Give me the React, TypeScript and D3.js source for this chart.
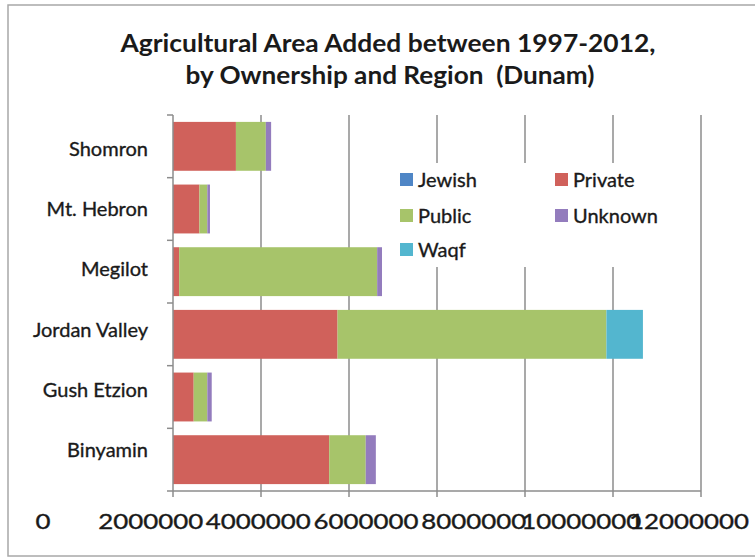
import React from "react";
import * as d3 from "d3";

const categories = ["Shomron", "Mt. Hebron", "Megilot", "Jordan Valley", "Gush Etzion", "Binyamin"];
const seriesNames = ["Jewish", "Private", "Public", "Unknown", "Waqf"];
const jewish = [0, 0, 0, 0, 0, 0];
const privateVals = [1430000, 600000, 140000, 3740000, 470000, 3550000];
const publicVals = [680000, 180000, 4500000, 6110000, 310000, 830000];
const unknownVals = [120000, 60000, 110000, 0, 100000, 230000];
const waqf = [0, 0, 0, 830000, 0, 0];
const xTicks = [0, 2000000, 4000000, 6000000, 8000000, 10000000, 12000000];
const colors = ["#4f86c6", "#d0615b", "#a7c46a", "#937cbd", "#53b6cf"];

const W = 755;
const H = 558;

export default function App() {
  const x = d3.scaleLinear().domain([0, 12000000]).range([173, 701]);
  const xLabel = d3.scaleLinear().domain([0, 12000000]).range([43, 689]);
  const y = d3.scaleBand<string>().domain(categories).range([115, 491]).paddingInner(0.22).paddingOuter(0.11);
  const yLabel = d3.scalePoint<string>().domain(categories).range([149, 450]);

  const rows = categories.map((c, i) => ({
    cat: c,
    Jewish: jewish[i],
    Private: privateVals[i],
    Public: publicVals[i],
    Unknown: unknownVals[i],
    Waqf: waqf[i],
  }));
  const stacked = d3.stack<any>().keys(seriesNames)(rows);
  const color = d3.scaleOrdinal<string, string>().domain(seriesNames).range(colors);

  const step = y.step();
  const boundaries = d3.range(categories.length + 1).map((i) => 115 + i * step);

  const legendPos = [
    { name: "Jewish", x: 400, y: 173 },
    { name: "Private", x: 555, y: 173 },
    { name: "Public", x: 400, y: 209 },
    { name: "Unknown", x: 555, y: 209 },
    { name: "Waqf", x: 400, y: 243 },
  ];

  const font = "Lato, 'Open Sans', sans-serif";
  const textColor = "#1a1a1a";
  const axisColor = "#8c8c8c";
  const heavy = { stroke: textColor, strokeWidth: 0.35 };

  return (
    <div style={{ position: "absolute", left: 0, top: 0 }}>
      <svg width={W} height={H} style={{ display: "block", background: "#fff" }}>
        <rect x={8} y={5} width={W} height={551} fill="#fff" stroke="#a8a8a8" strokeWidth={1.5} />
        <text x={388} y={52} textAnchor="middle" fontFamily={font} fontWeight="bold" fontSize={24} fill={textColor}
          textLength={535} lengthAdjust="spacingAndGlyphs">
          Agricultural Area Added between 1997-2012,
        </text>
        <text x={390} y={84} textAnchor="middle" fontFamily={font} fontWeight="bold" fontSize={24} fill={textColor}
          textLength={409} lengthAdjust="spacingAndGlyphs" style={{ whiteSpace: "pre" }}>
          {"by Ownership and Region  (Dunam)"}
        </text>

        {xTicks.slice(1).map((t) => (
          <line key={"g" + t} x1={x(t)} x2={x(t)} y1={115} y2={491} stroke={axisColor} strokeWidth={1.5} />
        ))}

        {stacked.map((s) => (
          <g key={s.key} fill={color(s.key)}>
            {s.map((d: any) => (
              d[1] - d[0] > 0 ? (
                <rect key={d.data.cat} x={x(d[0])} y={y(d.data.cat)} width={x(d[1]) - x(d[0])} height={y.bandwidth()} />
              ) : null
            ))}
          </g>
        ))}

        <line x1={173} x2={173} y1={115} y2={491} stroke={axisColor} strokeWidth={1.5} />
        {boundaries.map((b, i) => (
          <line key={"yt" + i} x1={167} x2={173} y1={b} y2={b} stroke={axisColor} strokeWidth={1.5} />
        ))}
        <line x1={173} x2={701} y1={491} y2={491} stroke={axisColor} strokeWidth={1.5} />
        {xTicks.map((t) => (
          <line key={"xt" + t} x1={x(t)} x2={x(t)} y1={491} y2={497} stroke={axisColor} strokeWidth={1.5} />
        ))}

        {categories.map((c) => (
          <text key={"l" + c} x={148} y={(yLabel(c) as number) + 7} textAnchor="end" fontFamily={font} fontSize={20} fill={textColor} {...heavy}>
            {c}
          </text>
        ))}

        {xTicks.map((t) => {
          const s = String(t);
          return (
            <text key={"xl" + t} x={xLabel(t)} y={529} textAnchor="middle" fontFamily={font} fontSize={21} fill={textColor}
              textLength={s.length * 15} lengthAdjust="spacingAndGlyphs" {...heavy}>
              {s}
            </text>
          );
        })}

        <rect x={385} y={163} width={295} height={104} fill="#fff" />
        {legendPos.map((l) => (
          <g key={"lg" + l.name}>
            <rect x={l.x} y={l.y} width={13} height={13} fill={color(l.name)} />
            <text x={l.x + 18} y={l.y + 14} fontFamily={font} fontSize={20} fill={textColor} {...heavy}>{l.name}</text>
          </g>
        ))}
      </svg>
    </div>
  );
}
